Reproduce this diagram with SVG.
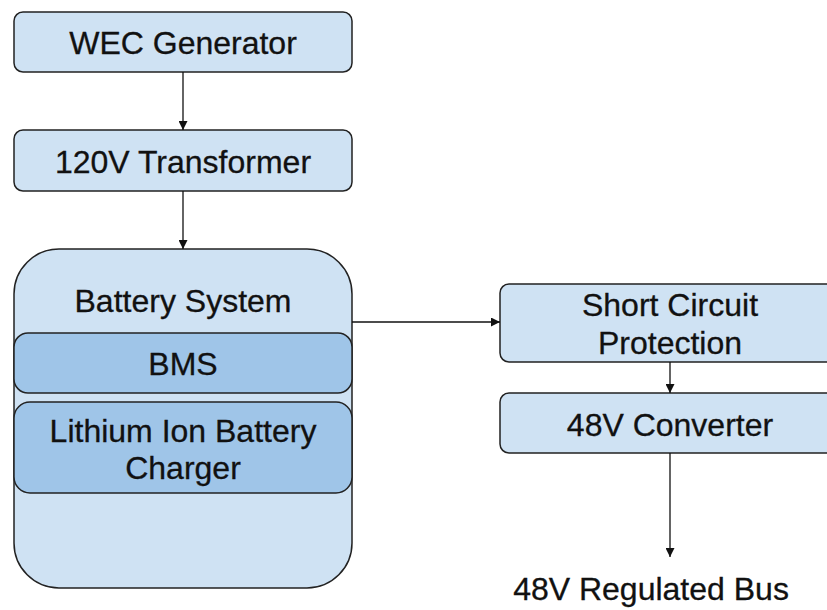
<svg xmlns="http://www.w3.org/2000/svg" width="827" height="610" viewBox="0 0 827 610">
<style>
.box{fill:#cfe2f3;stroke:#222;stroke-width:1.5}
.inner{fill:#9fc5e8;stroke:#222;stroke-width:1.5}
.t{font-family:"Liberation Sans",Arial,sans-serif;font-size:32px;fill:#111;stroke:#111;stroke-width:0.3;text-anchor:middle}
.c{stroke:#111;stroke-width:1.3;fill:none;marker-end:url(#ah)}
</style>
<defs>
<marker id="ah" viewBox="0 0 10 10" refX="10" refY="5" markerWidth="9" markerHeight="9" markerUnits="userSpaceOnUse" orient="auto">
<path d="M0,0 L10,5 L0,10 z" fill="#111"/>
</marker>
</defs>
<rect width="827" height="610" fill="#fff"/>
<g id="wec">
<rect class="box" x="14" y="12" width="338" height="60" rx="9"/>
<text class="t" x="183" y="54">WEC Generator</text>
</g>
<g id="transformer">
<rect class="box" x="14" y="130" width="338" height="61" rx="9"/>
<text class="t" x="183" y="173">120V Transformer</text>
</g>
<g id="battery">
<rect class="box" x="14" y="249" width="338" height="339" rx="45"/>
<text class="t" x="183" y="312">Battery System</text>
</g>
<g id="bms">
<rect class="inner" x="14" y="333" width="338" height="60" rx="14"/>
<text class="t" x="183" y="375">BMS</text>
</g>
<g id="charger">
<rect class="inner" x="14" y="402" width="338" height="91" rx="16"/>
<text class="t" x="183" y="442">Lithium Ion Battery</text>
<text class="t" x="183" y="479">Charger</text>
</g>
<g id="scp">
<rect class="box" x="500" y="284" width="340" height="78" rx="9"/>
<text class="t" x="670" y="316">Short Circuit</text>
<text class="t" x="670" y="354">Protection</text>
</g>
<g id="conv">
<rect class="box" x="500" y="393" width="340" height="60" rx="9"/>
<text class="t" x="670" y="436">48V Converter</text>
</g>
<g id="bus">
<text class="t" x="651" y="600">48V Regulated Bus</text>
</g>
<g id="connectors">
<line class="c" x1="183" y1="72" x2="183" y2="130"/>
<line class="c" x1="183" y1="191" x2="183" y2="249"/>
<line class="c" x1="352" y1="322" x2="500" y2="322"/>
<line class="c" x1="670" y1="362" x2="670" y2="393"/>
<line class="c" x1="670" y1="453" x2="670" y2="557"/>
</g>
</svg>
